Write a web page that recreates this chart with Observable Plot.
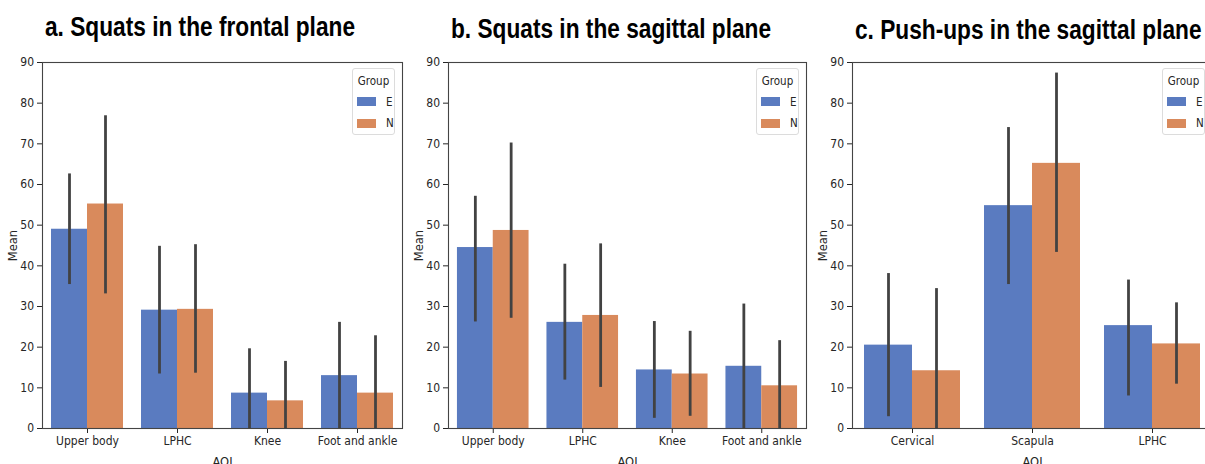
<!DOCTYPE html>
<html><head><meta charset="utf-8">
<script src="https://cdn.jsdelivr.net/npm/d3@7"></script>
<script src="https://cdn.jsdelivr.net/npm/@observablehq/plot@0.6"></script>
<style>
body{margin:0;background:#fff;overflow:hidden}
#wrap{position:relative;width:1205px;height:464px;overflow:hidden;background:#fff}
.panel{position:absolute;top:0}
.panel svg{max-width:none !important}
.panel [aria-label="y-axis label"] text{font-family:"DejaVu Sans",sans-serif;font-size:11.5px}
.panel [aria-label="x-axis label"] text{font-family:"DejaVu Sans",sans-serif;font-size:11.5px}
.title{position:absolute;font-family:"Liberation Sans",Arial,sans-serif;font-weight:bold;font-size:28px;line-height:28px;color:#000;white-space:nowrap;transform:scaleX(0.81);transform-origin:0 0}
.legend{position:absolute;box-sizing:border-box;width:43px;height:67px;border:1px solid #dcdcdc;border-radius:3px;background:rgba(255,255,255,0.85);font-family:"DejaVu Sans Condensed","DejaVu Sans",sans-serif;font-size:11.5px;color:#262626}
.legend .lt{text-align:center;margin-top:5px;margin-bottom:3px;line-height:14px}
.legend .row{display:flex;align-items:center;height:21.5px;padding-left:4px}
.legend .sw{width:19px;height:9px;margin-right:10px}
</style></head>
<body><div id="wrap"></div>
<script>
const groups = ["E", "N"];
const groupColors = ["#5a7bc0", "#d98a5c"];

// a. Squats in the frontal plane
const titleA = "a. Squats in the frontal plane";
const catsA = ["Upper body", "LPHC", "Knee", "Foot and ankle"];
const meanA_E = [49.0, 29.1, 8.7, 13.0];
const meanA_N = [55.2, 29.3, 6.8, 8.7];
const loA_E = [35.4, 13.4, 0, 0];
const hiA_E = [62.6, 44.8, 19.6, 26.1];
const loA_N = [33.1, 13.6, 0, 0];
const hiA_N = [76.9, 45.2, 16.5, 22.8];

// b. Squats in the sagittal plane
const titleB = "b. Squats in the sagittal plane";
const catsB = ["Upper body", "LPHC", "Knee", "Foot and ankle"];
const meanB_E = [44.5, 26.1, 14.4, 15.3];
const meanB_N = [48.7, 27.8, 13.4, 10.5];
const loB_E = [26.2, 11.9, 2.5, 0];
const hiB_E = [57.1, 40.4, 26.3, 30.6];
const loB_N = [27.1, 10.1, 3.0, 0];
const hiB_N = [70.2, 45.4, 23.9, 21.6];

// c. Push-ups in the sagittal plane
const titleC = "c. Push-ups in the sagittal plane";
const catsC = ["Cervical", "Scapula", "LPHC"];
const meanC_E = [20.5, 54.8, 25.3];
const meanC_N = [14.2, 65.2, 20.8];
const loC_E = [2.9, 35.4, 8.0];
const hiC_E = [38.1, 74.0, 36.5];
const loC_N = [0, 43.3, 10.9];
const hiC_N = [34.4, 87.4, 30.9];

const yTicks = [0, 10, 20, 30, 40, 50, 60, 70, 80, 90];

function rowsFor(cats, mE, mN, lE, hE, lN, hN) {
  const rows = [];
  cats.forEach((c, i) => {
    rows.push({i, cat: c, g: 0, group: groups[0], mean: mE[i], lo: lE[i], hi: hE[i]});
    rows.push({i, cat: c, g: 1, group: groups[1], mean: mN[i], lo: lN[i], hi: hN[i]});
  });
  return rows;
}

const panels = [
  {title: titleA, cats: catsA, rows: rowsFor(catsA, meanA_E, meanA_N, loA_E, hiA_E, loA_N, hiA_N), left: 0, plotW: 360, titleTop: 13},
  {title: titleB, cats: catsB, rows: rowsFor(catsB, meanB_E, meanB_N, loB_E, hiB_E, loB_N, hiB_N), left: 406, plotW: 358, titleTop: 15},
  {title: titleC, cats: catsC, rows: rowsFor(catsC, meanC_E, meanC_N, loC_E, hiC_E, loC_N, hiC_N), left: 810, plotW: 360, titleTop: 16}
];

const wrap = document.getElementById("wrap");
const mL = 42, mT = 62, mB = 36, mR = 4;

panels.forEach(p => {
  const n = p.cats.length;
  const W = mL + p.plotW + mR;
  const chart = Plot.plot({
    width: W,
    height: 464,
    marginLeft: mL, marginRight: mR, marginTop: mT, marginBottom: mB,
    style: {fontFamily: "'DejaVu Sans Condensed','DejaVu Sans',sans-serif", fontSize: "12px", color: "#262626", background: "transparent", overflow: "visible"},
    x: {domain: [-0.5, n - 0.5], ticks: d3.range(n), tickFormat: i => p.cats[i], tickSize: 5, tickPadding: 3,
        label: "AOI", labelAnchor: "center", labelOffset: 37, labelArrow: "none"},
    y: {domain: [0, 90], ticks: yTicks, tickSize: 5, tickPadding: 3.5,
        label: "Mean", labelAnchor: "center", labelOffset: 34, labelArrow: "none"},
    color: {domain: groups, range: groupColors},
    marks: [
      Plot.rectY(p.rows, {x1: d => d.i - 0.4 + d.g * 0.4, x2: d => d.i + d.g * 0.4, y1: 0, y2: "mean", fill: "group", inset: 0}),
      Plot.ruleX(p.rows, {x: d => d.i - 0.2 + d.g * 0.4, y1: "lo", y2: "hi", stroke: "#424242", strokeWidth: 2.8}),
      Plot.frame({stroke: "#444", strokeWidth: 1.1})
    ]
  });
  const div = document.createElement("div");
  div.className = "panel";
  div.style.left = p.left + "px";
  div.style.width = W + "px";
  div.appendChild(chart);
  wrap.appendChild(div);

  const t = document.createElement("div");
  t.className = "title";
  t.textContent = p.title;
  t.style.left = (p.left + mL + 3) + "px";
  t.style.top = p.titleTop + "px";
  wrap.appendChild(t);

  const lg = document.createElement("div");
  lg.className = "legend";
  lg.style.left = (p.left + mL + p.plotW - 7 - 43) + "px";
  lg.style.top = "68px";
  const lt = document.createElement("div");
  lt.className = "lt";
  lt.textContent = "Group";
  lg.appendChild(lt);
  groups.forEach((g, k) => {
    const r = document.createElement("div");
    r.className = "row";
    const sw = document.createElement("span");
    sw.className = "sw";
    sw.style.background = groupColors[k];
    const lab = document.createElement("span");
    lab.textContent = g;
    r.appendChild(sw); r.appendChild(lab);
    lg.appendChild(r);
  });
  wrap.appendChild(lg);
});
</script>
</body></html>
